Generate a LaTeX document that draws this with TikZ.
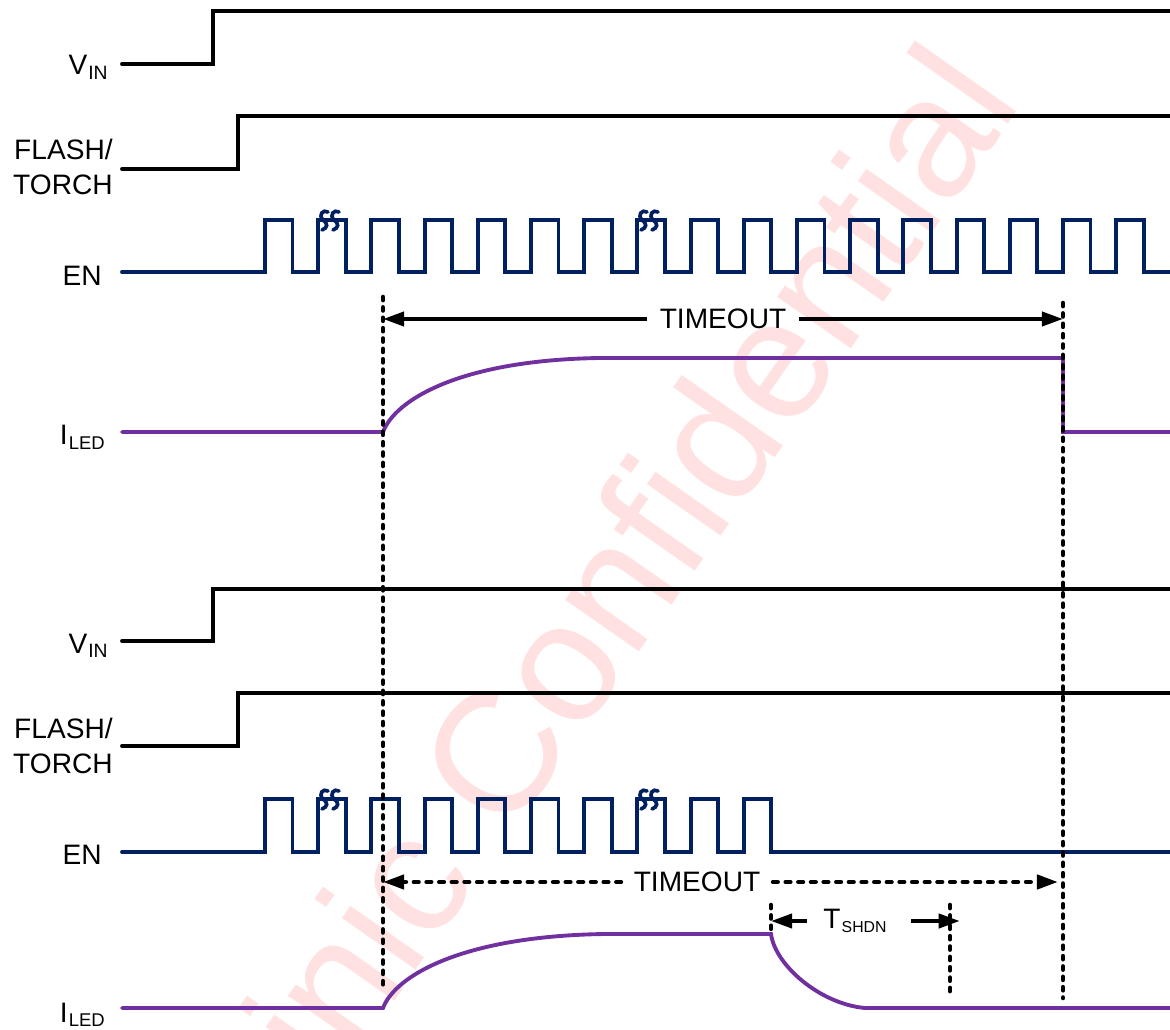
\documentclass[tikz,border=0pt]{standalone}
\usepackage{fontspec}
\setmainfont{Liberation Sans}
\usetikzlibrary{arrows.meta}
\definecolor{ennavy}{HTML}{002060}
\definecolor{ledpurple}{HTML}{7030A0}
\definecolor{wmpink}{HTML}{FFE1E1}
\newcommand{\sigsub}[2][11]{\kern0.6pt\raisebox{-2.4pt}{\fontsize{#1}{#1}\selectfont #2}}

\begin{document}
\begin{tikzpicture}[x=0.02cm, y=-0.02cm,
    sig/.style={line width=2.2pt, line cap=round},
    vsig/.style={sig, draw=black},
    ensig/.style={sig, draw=ennavy},
    ledsig/.style={sig, draw=ledpurple},
    guide/.style={line width=2.6pt, line cap=round, dash pattern=on 1.8pt off 4.1pt},
    durarrow/.style={line width=2.2pt, -{Triangle[length=12pt,width=8pt]}},
    dasharrow/.style={durarrow, line width=2.4pt, line cap=round, dash pattern=on 2.8pt off 4.4pt},
    lbl/.style={font=\fontsize{16}{19}\selectfont, inner sep=0pt},
    wm/.style={text=wmpink, rotate=55, font=\fontsize{97}{97}\selectfont, inner sep=0pt},
    ssline/.style={draw=ennavy, line width=2.1pt, line cap=round},
    ssbreak/.pic={
      \draw[ssline] (8,1) .. controls (3,-2) and (-2,4) .. (3,9) .. controls (8,12) and (8,17) .. (2,19);
      \draw[ssline] (19,1) .. controls (14,-2) and (9,4) .. (14,9) .. controls (19,12) and (19,17) .. (13,19);
    },
  ]

  \useasboundingbox (0,0) rectangle (1170,1030);

  % watermark
  \begin{scope}
    \clip (0,0) rectangle (1170,1030);
    \node[wm] (wmark) at (562,656) {Awinic Confidential};
  \end{scope}

  % first case: EN keeps toggling, timeout ends the flash
  \node[lbl, anchor=base east] (vin1) at (108,75) {V\sigsub{IN}};
  \node[lbl, anchor=base east] (ft1a) at (113,160) {FLASH/};
  \node[lbl, anchor=base east] (ft1b) at (113,195) {TORCH};
  \node[lbl, anchor=base east] (en1) at (102,286) {EN};
  \node[lbl, anchor=base east] (led1) at (105,445) {I\sigsub[10.5]{LED}};

  \draw[vsig] (122,64) -- (213,64) -- (213,11) -- (1170,11);
  \draw[vsig] (122,169) -- (238,169) -- (238,116) -- (1170,116);
  \draw[ensig] (122,272) foreach \k in {0,...,16} {
      -- ({265+53.2*\k},272) -- ++(0,-52) -- ++(27.5,0) -- ++(0,52) } -- (1170,272);
  \pic at (320,211) {ssbreak};
  \pic at (639,211) {ssbreak};
  \draw[ledsig] (122,432) -- (383,432) .. controls (395,400) and (460,360) .. (600,358)
    -- (1063,358) -- (1063,432) -- (1170,432);

  \coordinate (t1l) at (383,319);
  \coordinate (t1r) at (1063,319);
  \node[lbl, inner xsep=7pt] (tout1) at (723,319) {TIMEOUT};
  \draw[durarrow] (tout1.west) -- (tout1.west -| t1l);
  \draw[durarrow] (tout1.east) -- (tout1.east -| t1r);

  % second case: EN stops, shutdown after T_SHDN
  \node[lbl, anchor=base east] (vin2) at (108,653) {V\sigsub{IN}};
  \node[lbl, anchor=base east] (ft2a) at (113,738) {FLASH/};
  \node[lbl, anchor=base east] (ft2b) at (113,773) {TORCH};
  \node[lbl, anchor=base east] (en2) at (102,864) {EN};
  \node[lbl, anchor=base east] (led2) at (105,1022) {I\sigsub[10.5]{LED}};

  \draw[vsig] (122,641) -- (213,641) -- (213,589) -- (1170,589);
  \draw[vsig] (122,746) -- (238,746) -- (238,693) -- (1170,693);
  \draw[ensig] (122,852) foreach \k in {0,...,9} {
      -- ({265+53.2*\k},852) -- ++(0,-53) -- ++(27.5,0) -- ++(0,53) } -- (1170,852);
  \pic at (320,790) {ssbreak};
  \pic at (639,790) {ssbreak};
  \draw[ledsig] (122,1008) -- (383,1008) .. controls (395,976) and (462,936) .. (605,934)
    -- (771,934) .. controls (775,965) and (820,1004) .. (865,1008) -- (1170,1008);

  \coordinate (t2l) at (383,882);
  \coordinate (t2r) at (1058,882);
  \node[lbl, inner xsep=7pt] (tout2) at (697,882) {TIMEOUT};
  \draw[dasharrow] (tout2.west) -- (tout2.west -| t2l);
  \draw[dasharrow] (tout2.east) -- (tout2.east -| t2r);

  \coordinate (ts1) at (771,921);
  \coordinate (ts2) at (951,921);
  \node[lbl, inner xsep=9pt] (tshdn) at (855,921) {T\sigsub[9]{SHDN}};
  \draw[durarrow] (tshdn.west) -- (tshdn.west -| ts1);
  \draw[durarrow] ([xshift=5pt]tshdn.east) -- ([xshift=5pt]tshdn.east -| ts2);

  % dotted time markers
  \draw[guide] (383,297) -- (383,988);
  \draw[guide] (1063,303) -- (1063,998);
  \draw[guide] (771,905) -- (771,933);
  \draw[guide] (950,905) -- (950,998);
\end{tikzpicture}
\end{document}
